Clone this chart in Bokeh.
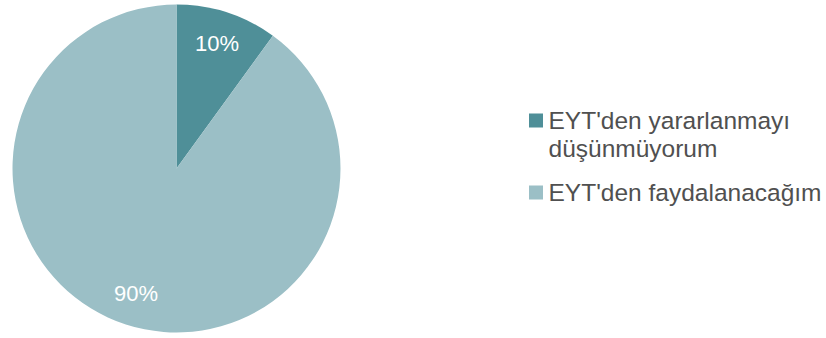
import math
from bokeh.plotting import figure
from bokeh.models import ColumnDataSource, Range1d
from bokeh.core.properties import value
from bokeh.embed import file_html
from bokeh.resources import INLINE

categories = ["EYT'den yararlanmayı\ndüşünmüyorum", "EYT'den faydalanacağım"]
shares = [10, 90]
labels = ["10%", "90%"]
colors = ["#4f8f98", "#9bbfc6"]

W, H = 826, 338
p = figure(width=W, height=H, output_backend="svg", toolbar_location=None,
           x_range=Range1d(0, W), y_range=Range1d(0, H), min_border=0)
p.axis.visible = False
p.grid.visible = False
p.outline_line_color = None
p.background_fill_color = "white"

cx, cy, r = 176, 170, 164
total = sum(shares)
starts, ends, lx, ly = [], [], [], []
a = math.pi / 2
for s in shares:
    sweep = 2 * math.pi * s / total
    starts.append(a - sweep)
    ends.append(a)
    mid = a - sweep / 2
    lx.append(cx + 0.8 * r * math.cos(mid))
    ly.append(cy + 0.8 * r * math.sin(mid))
    a -= sweep

src = ColumnDataSource(dict(start=starts, end=ends, color=colors, lx=lx, ly=ly, label=labels))
p.wedge(x=cx, y=cy, radius=r, start_angle="start", end_angle="end",
        fill_color="color", line_color=None, source=src)
p.text(x="lx", y="ly", text="label", source=src, text_color="white",
       text_font=value("Liberation Sans"), text_font_size="22px",
       text_align="center", text_baseline="middle")

# legend
sq_x = 535.5
text_x = 548
first_center = 218
line_h = 28
item_gap = 16
sq_y, tx, ty, tt = [], [], [], []
y = first_center
for c in categories:
    lines = c.split("\n")
    sq_y.append(y)
    for ln in lines:
        tx.append(text_x)
        ty.append(y)
        tt.append(ln)
        y -= line_h
    y -= item_gap

p.rect(x=[sq_x] * len(categories), y=sq_y, width=14, height=14,
       fill_color=colors, line_color=None)
p.text(x=tx, y=ty, text=tt, text_color="#505050",
       text_font=value("Liberation Sans"), text_font_size="24.5px",
       text_align="left", text_baseline="middle")

open("out.html", "w").write(file_html(p, INLINE))
